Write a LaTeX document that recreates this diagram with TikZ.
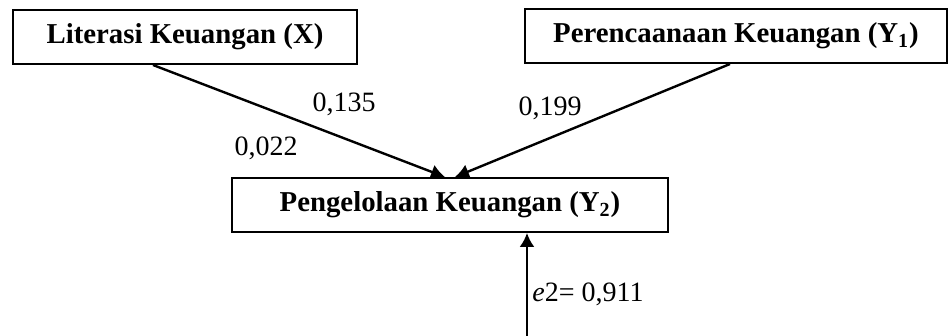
\documentclass[tikz,border=0pt]{standalone}
\usepackage{fontspec}
\setmainfont{Liberation Serif}
\usetikzlibrary{arrows.meta,positioning,calc}

\begin{document}
\begin{tikzpicture}[
    x=0.5pt, y=-0.5pt,
    font=\fontsize{14}{16}\selectfont,
    var/.style={draw, line width=1pt, font=\fontsize{14.4}{16}\selectfont\bfseries, minimum height=27pt, inner sep=0pt},
    path/.style={line width=1.2pt, -{Latex[length=7pt,width=7.5pt]}},
    coef/.style={inner sep=0pt}
]
\useasboundingbox (0,0) rectangle (949,336);

% variabel
\node[var, minimum width=172pt] (lx) at (185,37) {Literasi Keuangan (X)};
\node[var, minimum width=211pt] (ry) at (736,36) {Perencaanaan Keuangan (Y\textsubscript{1})};
\node[var, minimum width=218pt] (py) at (450,205) {Pengelolaan Keuangan (Y\textsubscript{2})};
\coordinate (e2) at (527,336);

% jalur
\draw[path] ([xshift=-16pt]lx.south) -- ([xshift=-2.5pt]py.north);
\draw[path] ([xshift=-3pt]ry.south) -- ([xshift=2.5pt]py.north);
\draw[path] (e2) -- (e2 |- py.south);

% koefisien
\node[coef] (c1) at (344,104) {0,135};
\node[coef] (c2) at (550,108) {0,199};
\node[coef] (c3) at (266,148) {0,022};
\node[coef, anchor=west] (c4) at (532,294) {\textit{e}2= 0,911};

\end{tikzpicture}
\end{document}
